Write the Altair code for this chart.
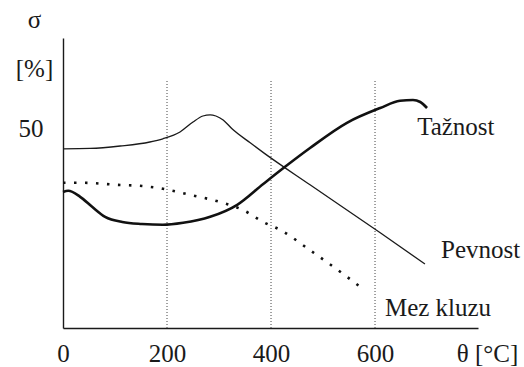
import altair as alt
import pandas as pd

# ---- data (theta in °C, sigma in %) ----
pevnost_theta = [0, 52, 110, 167, 192, 225, 250, 269, 283, 294, 308, 325, 360, 388, 475, 610, 696]
pevnost_sigma = [44.8, 44.9, 45.5, 46.5, 47.3, 49.0, 51.5, 53.0, 53.3, 53.0, 52.0, 49.8, 46.3, 43.6, 35.8, 23.8, 16.0]

taznost_theta = [0, 10, 33, 56, 81, 114, 152, 192, 231, 283, 335, 385, 427, 475, 546, 610, 648, 673, 687, 700]
taznost_sigma = [34.0, 34.3, 32.8, 30.3, 27.8, 26.5, 26.0, 25.8, 26.3, 27.8, 30.8, 36.0, 40.3, 45.0, 51.3, 55.0, 56.8, 57.0, 56.5, 55.0]

mez_theta = [0, 38, 104, 152, 192, 244, 302, 346, 385, 421, 469, 546, 581]
mez_sigma = [36.3, 36.3, 35.8, 35.5, 34.8, 33.3, 31.5, 29.5, 26.5, 24.3, 20.0, 12.8, 9.3]

grid_theta = [200, 400, 600]
grid_top = 62

x_ticks = [0, 200, 400, 600]
y_ticks = [50]

label_text = ["Tažnost", "Pevnost", "Mez kluzu"]
label_theta = [681, 727, 619]
label_sigma = [50.3, 19.5, 5.0]

FONT = "serif"
INK = "#1a1a1a"
X_MAX = 798
Y_MAX = 72.5

x_scale = alt.Scale(domain=[0, X_MAX], nice=False, zero=False)
y_scale = alt.Scale(domain=[0, Y_MAX], nice=False, zero=False)

pev = pd.DataFrame({"t": pevnost_theta, "s": pevnost_sigma})
taz = pd.DataFrame({"t": taznost_theta, "s": taznost_sigma})
mez = pd.DataFrame({"t": mez_theta, "s": mez_sigma})
grid = pd.DataFrame({"t": grid_theta, "s": [0] * len(grid_theta), "top": [grid_top] * len(grid_theta)})
labels = pd.DataFrame({"label": label_text, "t": label_theta, "s": label_sigma})

x_axis = alt.Axis(
    values=x_ticks, grid=False, ticks=False, tickSize=0, domain=True,
    domainColor=INK, domainWidth=1.4,
    labelFont=FONT, labelFontSize=25, labelColor=INK, labelPadding=25,
    labelBaseline="middle", labelFlush=False, labelOverlap=False,
    title="θ [°C]", titleFont=FONT, titleFontSize=25, titleFontWeight="normal",
    titleColor=INK, titleX=424, titleY=25, titleBaseline="middle", titleAlign="center",
)
y_axis = alt.Axis(
    values=y_ticks, grid=False, ticks=False, tickSize=0, domain=True,
    domainColor=INK, domainWidth=1.4,
    labelFont=FONT, labelFontSize=25, labelColor=INK, labelPadding=20,
    labelBaseline="middle", labelFlush=False,
    title=["σ", "[%]"], titleFont=FONT, titleFontSize=25, titleFontWeight="normal",
    titleColor=INK, titleAngle=0, titleX=-29, titleY=-11, titleLineHeight=49,
    titleBaseline="alphabetic", titleAlign="center",
)


def xy():
    return dict(
        x=alt.X("t:Q", scale=x_scale, axis=x_axis),
        y=alt.Y("s:Q", scale=y_scale, axis=y_axis),
    )


rules = alt.Chart(grid).mark_rule(color="#444", strokeWidth=1, strokeDash=[1, 2]).encode(
    y2="top:Q", **xy()
)
pev_line = alt.Chart(pev).mark_line(color=INK, strokeWidth=1.3, interpolate="monotone").encode(**xy())
taz_line = alt.Chart(taz).mark_line(color="#111", strokeWidth=2.6, interpolate="monotone").encode(**xy())
mez_line = alt.Chart(mez).mark_line(
    color="#111", strokeWidth=2.6, strokeDash=[2.5, 8.5], interpolate="monotone"
).encode(**xy())
texts = alt.Chart(labels).mark_text(
    align="left", baseline="middle", font=FONT, fontSize=25, color=INK
).encode(text="label:N", **xy())

chart = alt.layer(rules, pev_line, taz_line, mez_line, texts).properties(
    width=415,
    height=290,
    padding={"left": 63, "top": 38, "right": 46, "bottom": 39},
    autosize="none",
    background="white",
).configure_view(stroke=None)

chart.save("out.html", embed_options={"renderer": "svg", "actions": False})
